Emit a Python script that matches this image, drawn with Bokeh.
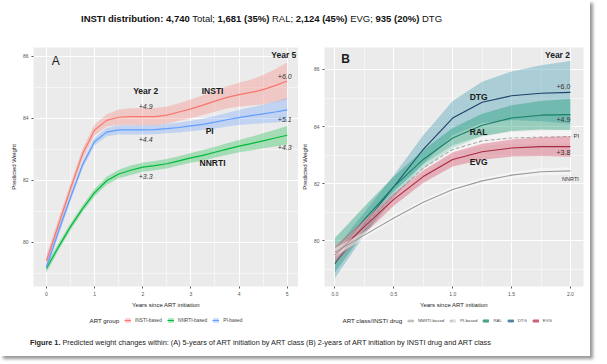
from bokeh.plotting import figure
from bokeh.layouts import column, row
from bokeh.models import Div, Legend, LegendItem, FixedTicker, Label, Range1d, PrintfTickFormatter
from bokeh.embed import file_html
from bokeh.resources import INLINE

FONT = "Liberation Sans"

# ---------------- Panel A data (years since ART initiation, 0-5) ----------------
years_a = [0, 0.25, 0.5, 0.75, 1.0, 1.25, 1.5, 1.75, 2.0, 2.25, 2.5, 2.75, 3.0,
           3.25, 3.5, 3.75, 4.0, 4.25, 4.5, 4.75, 5.0]
insti_a = [79.4, 80.57, 81.73, 82.85, 83.62, 83.93, 84.03, 84.05, 84.05, 84.05, 84.1, 84.2, 84.3,
           84.42, 84.55, 84.67, 84.76, 84.83, 84.92, 85.05, 85.2]
insti_ci = [0.2, 0.18, 0.17, 0.17, 0.18, 0.2, 0.25, 0.27, 0.28, 0.28, 0.28, 0.28, 0.3,
            0.32, 0.34, 0.36, 0.38, 0.42, 0.47, 0.53, 0.6]
nnrti_a = [79.15, 79.85, 80.5, 81.08, 81.6, 81.98, 82.2, 82.32, 82.42, 82.47, 82.53, 82.62, 82.72,
           82.8, 82.9, 83.0, 83.1, 83.18, 83.27, 83.36, 83.45]
nnrti_ci = [0.13, 0.12, 0.11, 0.11, 0.12, 0.13, 0.14, 0.15, 0.15, 0.15, 0.15, 0.15, 0.16,
            0.17, 0.18, 0.19, 0.2, 0.22, 0.24, 0.27, 0.3]
pi_a = [79.2, 80.35, 81.45, 82.5, 83.25, 83.55, 83.62, 83.62, 83.62, 83.63, 83.66, 83.7, 83.75,
        83.8, 83.87, 83.95, 84.02, 84.08, 84.14, 84.2, 84.27]
pi_ci = [0.15, 0.13, 0.12, 0.12, 0.12, 0.13, 0.15, 0.15, 0.15, 0.15, 0.15, 0.16, 0.17,
         0.18, 0.2, 0.22, 0.24, 0.27, 0.3, 0.34, 0.38]
ticks_a_x = [0, 1, 2, 3, 4, 5]
ticks_a_y = [80, 82, 84, 86]

# ---------------- Panel B data (years since ART initiation, 0-2) ----------------
years_b = [0, 0.25, 0.5, 0.75, 1.0, 1.25, 1.5, 1.75, 2.0]
dtg_b = [79.2, 80.6, 81.9, 83.2, 84.3, 84.85, 85.08, 85.17, 85.2]
dtg_ci = [0.5, 0.4, 0.4, 0.5, 0.6, 0.72, 0.85, 0.98, 1.1]
ral_b = [79.5, 80.75, 81.9, 82.85, 83.6, 84.05, 84.3, 84.4, 84.42]
ral_ci = [0.6, 0.45, 0.35, 0.33, 0.35, 0.4, 0.45, 0.5, 0.55]
evg_b = [79.5, 80.5, 81.45, 82.25, 82.85, 83.12, 83.25, 83.3, 83.3]
evg_ci = [0.3, 0.25, 0.22, 0.22, 0.25, 0.28, 0.3, 0.33, 0.36]
pib_b = [79.5, 80.55, 81.6, 82.55, 83.2, 83.5, 83.6, 83.63, 83.65]
pib_ci = [0.2, 0.15, 0.13, 0.13, 0.15, 0.18, 0.2, 0.22, 0.25]
nnrtib_b = [79.6, 80.2, 80.8, 81.35, 81.8, 82.1, 82.3, 82.42, 82.45]
nnrtib_ci = [0.15, 0.12, 0.1, 0.1, 0.1, 0.1, 0.11, 0.12, 0.13]
ticks_b_x = [0.0, 0.5, 1.0, 1.5, 2.0]
ticks_b_y = [80, 82, 84, 86]


def lo(v, c):
    return [a - b for a, b in zip(v, c)]


def hi(v, c):
    return [a + b for a, b in zip(v, c)]


def style(p, xt, xminor, yt, yminor):
    p.background_fill_color = "#ebebeb"
    p.border_fill_color = "white"
    p.outline_line_color = None
    p.xaxis.ticker = FixedTicker(ticks=xt, minor_ticks=xminor)
    p.yaxis.ticker = FixedTicker(ticks=yt, minor_ticks=yminor)
    for g in (p.xgrid, p.ygrid):
        g.grid_line_color = "white"
        g.grid_line_width = 1
        g.minor_grid_line_color = "white"
        g.minor_grid_line_width = 0.5
    for ax in (p.xaxis, p.yaxis):
        ax.axis_line_color = None
        ax.major_tick_line_color = "#555555"
        ax.major_tick_out = 2
        ax.major_tick_in = 0
        ax.minor_tick_line_color = None
        ax.major_label_text_font = FONT
        ax.major_label_text_font_size = "5px"
        ax.major_label_text_color = "#555555"
        ax.major_label_standoff = 1
        ax.axis_label_text_font = FONT
        ax.axis_label_text_font_size = "6px"
        ax.axis_label_text_font_style = "normal"
        ax.axis_label_text_color = "#222222"
        ax.axis_label_standoff = 3
    p.xaxis.axis_label = "Years since ART initiation"
    p.yaxis.axis_label = "Predicted Weight"


def add_label(p, text, x, y, size, style_="normal", color="#1a1a1a", align="center"):
    p.add_layout(Label(x=x, y=y, text=text, text_font=FONT, text_font_size=size,
                       text_font_style=style_, text_color=color, text_align=align,
                       text_baseline="middle"))


def legend_figure(width, title_text, title_x, legend_x, label_size, glyph_h):
    f = figure(width=width, height=20, x_range=Range1d(0, 1), y_range=Range1d(0, 1),
               output_backend="svg", toolbar_location=None, min_border=0,
               x_axis_type=None, y_axis_type=None)
    f.outline_line_color = None
    f.background_fill_color = "white"
    f.border_fill_color = "white"
    f.add_layout(Label(x=title_x, y=10, x_units="screen", y_units="screen", text=title_text,
                       text_font=FONT, text_font_size="6.2px", text_color="#222222",
                       text_align="left", text_baseline="middle"))
    leg = Legend(items=[], orientation="horizontal", location=(legend_x, (20 - glyph_h) / 2),
                 label_text_font=FONT, label_text_font_size=label_size, label_text_color="#444444",
                 glyph_width=7, glyph_height=glyph_h, spacing=5, padding=0, margin=0,
                 label_standoff=4, label_width=1, label_height=glyph_h,
                 border_line_color=None, background_fill_alpha=0)
    f.add_layout(leg)
    return f, leg


# ---------------- Panel A ----------------
pA = figure(width=298, height=278, x_range=Range1d(-0.27, 5.235), y_range=Range1d(78.57, 86.28),
            output_backend="svg", toolbar_location=None, min_border_left=33, min_border_right=0,
            min_border_top=15, min_border_bottom=22)
style(pA, ticks_a_x, [0.5, 1.5, 2.5, 3.5, 4.5], ticks_a_y, [79, 81, 83, 85])
legA, legendA = legend_figure(298, "ART group", 89, 124, "4.8px", 6)

series_a = [
    ("INSTI-based", insti_a, insti_ci, "#F8766D"),
    ("NNRTI-based", nnrti_a, nnrti_ci, "#00BA38"),
    ("PI-based", pi_a, pi_ci, "#619CFF"),
]
for name, v, c, col in series_a:
    pA.varea(x=years_a, y1=lo(v, c), y2=hi(v, c), fill_color=col, fill_alpha=0.3)
    pA.line(x=years_a, y=v, line_color=col, line_width=1.2)
    # legend keys (same series, in the key strip below the panel)
    kb = legA.varea(x=years_a, y1=lo(v, c), y2=hi(v, c), fill_color=col, fill_alpha=0.3)
    kl = legA.line(x=years_a, y=v, line_color=col, line_width=1.2)
    legendA.items.append(LegendItem(label=name, renderers=[kb, kl]))

add_label(pA, "A", 0.19, 85.86, "12px")
add_label(pA, "Year 5", 4.93, 86.05, "8.5px", "bold")
add_label(pA, "Year 2", 2.06, 84.88, "8.5px", "bold")
add_label(pA, "INSTI", 3.45, 84.88, "8.5px", "bold")
add_label(pA, "PI", 3.39, 83.6, "8.5px", "bold")
add_label(pA, "NNRTI", 3.45, 82.56, "8.5px", "bold")
add_label(pA, "+4.9", 2.06, 84.37, "7px", "italic", "#333333")
add_label(pA, "+4.4", 2.06, 83.3, "7px", "italic", "#333333")
add_label(pA, "+3.3", 2.06, 82.11, "7px", "italic", "#333333")
add_label(pA, "+6.0", 4.95, 85.35, "7px", "italic", "#333333")
add_label(pA, "+5.1", 4.95, 83.97, "7px", "italic", "#333333")
add_label(pA, "+4.3", 4.95, 83.06, "7px", "italic", "#333333")

# ---------------- Panel B ----------------
pB = figure(width=292, height=278, x_range=Range1d(-0.089, 2.111), y_range=Range1d(78.4, 86.77),
            output_backend="svg", toolbar_location=None, min_border_left=22, min_border_right=7,
            min_border_top=15, min_border_bottom=22)
style(pB, ticks_b_x, [0.25, 0.75, 1.25, 1.75], ticks_b_y, [79, 81, 83, 85])
pB.xaxis.formatter = PrintfTickFormatter(format="%.1f")
legB, legendB = legend_figure(292, "ART class/INSTI drug", 44, 109, "4.3px", 5)

series_b = [
    ("DTG", dtg_b, dtg_ci, "#4a9fb3", 0.4, "#1f3f6b", None),
    ("RAL", ral_b, ral_ci, "#1b9e77", 0.4, "#1a7f66", None),
    ("PI-based", pib_b, pib_ci, "#ffffff", 0.45, "#aaaaaa", "4 2"),
    ("EVG", evg_b, evg_ci, "#d9536e", 0.4, "#a8283f", None),
    ("NNRTI-based", nnrtib_b, nnrtib_ci, "#ffffff", 0.45, "#9a9a9a", None),
]
keys_b = {}
for name, v, c, fcol, fa, lcol, dash in series_b:
    kw = dict(line_color=lcol, line_width=1.1)
    if dash:
        kw["line_dash"] = dash
    pB.varea(x=years_b, y1=lo(v, c), y2=hi(v, c), fill_color=fcol, fill_alpha=fa)
    pB.line(x=years_b, y=v, **kw)
    kfill = fcol if fcol != "#ffffff" else "#d8d8d8"
    kb = legB.varea(x=years_b, y1=lo(v, c), y2=hi(v, c), fill_color=kfill, fill_alpha=0.5)
    kl = legB.line(x=years_b, y=v, **kw)
    keys_b[name] = [kb, kl]
for n in ["NNRTI-based", "PI-based", "RAL", "DTG", "EVG"]:
    legendB.items.append(LegendItem(label=n, renderers=keys_b[n]))

add_label(pB, "B", 0.09, 86.35, "12px", "bold")
add_label(pB, "Year 2", 1.89, 86.5, "8.5px", "bold")
add_label(pB, "DTG", 1.22, 85.05, "8.5px", "bold")
add_label(pB, "RAL", 1.22, 83.8, "8.5px", "bold")
add_label(pB, "EVG", 1.22, 82.76, "8.5px", "bold")
add_label(pB, "PI", 2.05, 83.66, "6px", "normal", "#333333")
add_label(pB, "NNRTI", 2.0, 82.18, "5.5px", "normal", "#333333")
add_label(pB, "+6.0", 1.94, 85.4, "7px", "normal", "#333333")
add_label(pB, "+4.9", 1.94, 84.24, "7px", "normal", "#333333")
add_label(pB, "+3.8", 1.94, 83.1, "7px", "normal", "#333333")

title = Div(text=("<div style=\"font-family:'Liberation Sans';font-size:9.5px;line-height:10px;"
                  "padding-top:14px;padding-left:81px;white-space:nowrap;color:#111\">"
                  "<b>INSTI distribution: 4,740</b> Total; <b>1,681 (35%)</b> RAL; "
                  "<b>2,124 (45%)</b> EVG; <b>935 (20%)</b> DTG</div>"),
            width=590, height=32, margin=(0, 0, 0, 0))
caption = Div(text=("<div style=\"font-family:'Liberation Sans';font-size:7.3px;line-height:10px;"
                    "padding-top:8px;padding-left:30px;white-space:nowrap;color:#222\">"
                    "<b>Figure 1.</b> Predicted weight changes within: (A) 5-years of ART initiation by ART class "
                    "(B) 2-years of ART initiation by INSTI drug and ART class</div>"),
              width=590, height=26, margin=(0, 0, 0, 0))

layout = column(title, row(pA, pB), row(legA, legB), caption,
                styles={"box-shadow": "3px 3px 3px #999999", "background": "white"})

open("out.html", "w").write(file_html(layout, INLINE))
